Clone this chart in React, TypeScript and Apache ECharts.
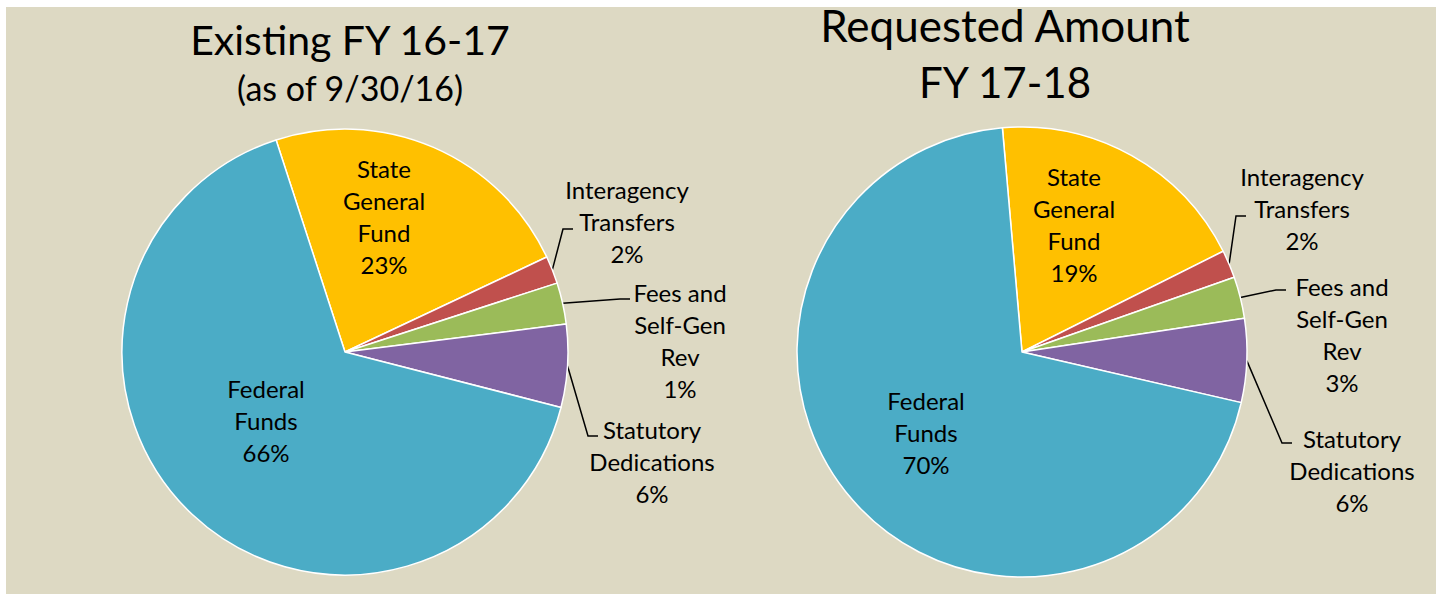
import React, { useEffect, useRef } from "react";
import * as echarts from "echarts";

const categories = [
  "State\nGeneral\nFund",
  "Interagency\nTransfers",
  "Fees and\nSelf-Gen\nRev",
  "Statutory\nDedications",
  "Federal\nFunds",
];
const existingValues = [23, 2, 3, 6, 66];
const existingPctLabels = ["23%", "2%", "1%", "6%", "66%"];
const requestedValues = [19, 2, 3, 6, 70];
const requestedPctLabels = ["19%", "2%", "3%", "6%", "70%"];
const sliceColors = ["#FFC000", "#C0504D", "#9BBB59", "#8064A2", "#4BACC6"];
const labelInside = [true, false, false, false, true];

// label block centres (layout only), page pixel coords
const labelPosExisting = [
  [384, 216],
  [627, 221],
  [680, 340],
  [652, 461],
  [266, 420],
];
const labelPosRequested = [
  [1074, 224],
  [1302, 208],
  [1342, 334],
  [1352, 470],
  [926, 432],
];
// where the leader line meets each label, relative to the label centre
const leaderEndExisting = [null, [-54, 8], [-50, -41], [-54, -25], null];
const leaderEndRequested = [null, [-56, 8], [-56, -44], [-60, -27], null];

const FONT = "Lato, 'Open Sans', sans-serif";

function buildSeries(
  values: number[],
  pct: string[],
  center: [number, number],
  radius: number,
  startAngle: number,
  positions: number[][],
  leaderEnds: (number[] | null)[]
) {
  return {
    type: "pie",
    center,
    radius,
    startAngle,
    clockwise: true,
    avoidLabelOverlap: false,
    itemStyle: { borderColor: "#ffffff", borderWidth: 1.5 },
    label: {
      color: "#000",
      fontFamily: FONT,
      fontSize: 24,
      lineHeight: 32,
      align: "center",
    },
    labelLine: {
      length: 10,
      length2: 10,
      lineStyle: { color: "#000", width: 1.5 },
    },
    labelLayout: (params: any) => {
      const i = params.dataIndex;
      const pos = positions[i];
      const out: any = {
        x: pos[0],
        y: pos[1],
        align: "center",
        verticalAlign: "middle",
      };
      const le = leaderEnds[i];
      const pts = params.labelLinePoints;
      if (le && pts && pts.length) {
        const end = [pos[0] + le[0], pos[1] + le[1]];
        const mid = [end[0] - 10, end[1]];
        out.labelLinePoints = [[pts[0][0], pts[0][1]], mid, end];
      }
      return out;
    },
    emphasis: { disabled: true },
    data: values.map((v, i) => ({
      name: categories[i],
      value: v,
      itemStyle: { color: sliceColors[i] },
      label: {
        position: labelInside[i] ? "inside" : "outside",
        formatter: () => categories[i] + "\n" + pct[i],
      },
      labelLine: { show: !labelInside[i] },
    })),
  };
}

export default function App() {
  const ref = useRef<HTMLDivElement>(null);
  useEffect(() => {
    document.body.style.margin = "0";
    const chart = echarts.init(ref.current!, null, { renderer: "svg" });
    const titleText = (text: string, x: number, y: number, size: number) => ({
      type: "text",
      x,
      y,
      z: 10,
      style: {
        text,
        fill: "#000",
        font: `${size}px ${FONT}`,
        textAlign: "center",
        textVerticalAlign: "middle",
      },
    });
    chart.setOption({
      animation: false,
      backgroundColor: "#ffffff",
      graphic: [
        {
          type: "rect",
          z: -10,
          silent: true,
          shape: { x: 6, y: 7, width: 1430, height: 587 },
          style: { fill: "#DDD9C3" },
        },
        titleText("Existing FY 16-17", 350, 39, 41),
        titleText("(as of 9/30/16)", 350, 87, 34),
        titleText("Requested Amount", 1005, 25, 44),
        titleText("FY 17-18", 1005, 82, 42),
      ],
      series: [
        buildSeries(existingValues, existingPctLabels, [345, 352], 223, 108, labelPosExisting, leaderEndExisting),
        buildSeries(requestedValues, requestedPctLabels, [1022, 352], 225, 95, labelPosRequested, leaderEndRequested),
      ],
    });
    return () => chart.dispose();
  }, []);
  return <div ref={ref} style={{ width: 1436, height: 594 }} />;
}
